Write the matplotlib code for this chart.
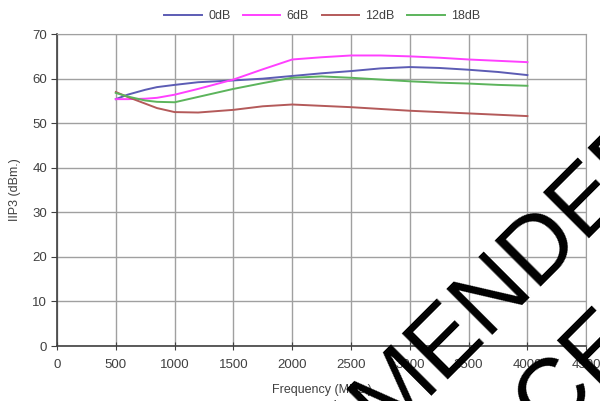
import matplotlib
matplotlib.use("Agg")
import matplotlib.pyplot as plt

# ---- data ----
freq = [500, 600, 750, 850, 1000, 1200, 1500, 1750, 2000, 2250, 2500, 2750, 3000, 3250, 3500, 3750, 4000]
iip3_0db = [55.4, 56.4, 57.5, 58.1, 58.6, 59.2, 59.6, 60.0, 60.6, 61.2, 61.7, 62.3, 62.6, 62.4, 62.0, 61.5, 60.8]
iip3_6db = [55.4, 55.4, 55.5, 55.7, 56.4, 57.7, 59.8, 62.1, 64.3, 64.8, 65.2, 65.2, 65.0, 64.7, 64.3, 64.0, 63.7]
iip3_12db = [57.0, 55.9, 54.4, 53.4, 52.5, 52.4, 53.0, 53.8, 54.2, 53.9, 53.6, 53.2, 52.8, 52.5, 52.2, 51.9, 51.6]
iip3_18db = [56.8, 56.0, 55.1, 54.8, 54.7, 55.9, 57.7, 59.0, 60.2, 60.5, 60.2, 59.8, 59.4, 59.1, 58.9, 58.6, 58.4]

labels = ["0dB", "6dB", "12dB", "18dB"]
colors = ["#5c5cb4", "#ff40ff", "#b45a5a", "#5cb45c"]
xticks = list(range(0, 4501, 500))
yticks = list(range(0, 71, 10))

plt.rcParams["font.family"] = ["Liberation Sans", "DejaVu Sans"]

fig = plt.figure(figsize=(6, 4.01), dpi=100)
ax = fig.add_axes([0.095, 0.137, 0.882, 0.778])

for y, lab, c in zip([iip3_0db, iip3_6db, iip3_12db, iip3_18db], labels, colors):
    ax.plot(freq, y, color=c, lw=1.4, label=lab)

ax.set_xlim(0, 4500)
ax.set_ylim(0, 70)
ax.set_xticks(xticks)
ax.set_yticks(yticks)
ax.grid(True, color="#a0a0a0", lw=1.0)
ax.set_axisbelow(True)

for s in ["top", "right"]:
    ax.spines[s].set_color("#a0a0a0")
for s in ["left", "bottom"]:
    ax.spines[s].set_color("#404040")
    ax.spines[s].set_linewidth(1.2)

ax.tick_params(axis="y", direction="out", length=4, color="#404040", labelsize=9.5, labelcolor="#404040", pad=3)
ax.tick_params(axis="x", direction="inout", length=6, color="#404040", labelsize=9.5, labelcolor="#404040", pad=6)

ax.set_xlabel("Frequency (MHz.)", fontsize=9, color="#404040", labelpad=10)
ax.set_ylabel("IIP3 (dBm.)", fontsize=9, color="#404040", labelpad=8)

fig.legend(loc="center", bbox_to_anchor=(0.537, 0.96), ncol=4, frameon=False,
           fontsize=9, handlelength=3.0, columnspacing=1.0, handletextpad=0.5,
           labelcolor="#404040")

# ---- watermark text crossing the lower right (cut by the edges, as in the source) ----
fig.text(0.228, -0.703, "RECOMMENDED", rotation=45, rotation_mode="anchor",
         ha="left", va="baseline", fontsize=68, color="black")
fig.text(0.547, -0.63, "REPLACEMENT", rotation=45, rotation_mode="anchor",
         ha="left", va="baseline", fontsize=68, color="black")

fig.savefig("out.png", dpi=100)
